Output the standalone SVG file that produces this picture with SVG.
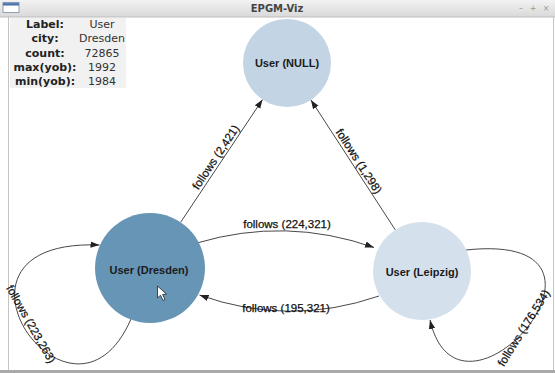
<svg xmlns="http://www.w3.org/2000/svg" width="555" height="373" viewBox="0 0 555 373">
  <defs>
    <linearGradient id="titleGrad" x1="0" y1="0" x2="0" y2="1">
      <stop offset="0" stop-color="#f2f2f2"/>
      <stop offset="1" stop-color="#d9d9d9"/>
    </linearGradient>
    <linearGradient id="iconGrad" x1="0" y1="0" x2="0" y2="1">
      <stop offset="0" stop-color="#6d8fbf"/>
      <stop offset="1" stop-color="#3e64a0"/>
    </linearGradient>
    <marker id="arrow" markerUnits="userSpaceOnUse" markerWidth="10" markerHeight="8" refX="9" refY="4" orient="auto">
      <path d="M0,0.8 L9,4 L0,7.2 Z" fill="#222"/>
    </marker>
    <style>
      .frame { fill: none; stroke: #c4c4c4; stroke-width: 1; }
      .title { font-family: "DejaVu Sans", sans-serif; font-weight: bold; font-size: 10px; fill: #444; }
      .winbtn { font-family: "DejaVu Sans", sans-serif; font-size: 8px; fill: #9a9a9a; }
      .info-k { font-family: "DejaVu Sans", sans-serif; font-weight: bold; font-size: 11px; fill: #222; text-anchor: middle; }
      .info-v { font-family: "DejaVu Sans", sans-serif; font-size: 11px; fill: #333; text-anchor: middle; }
      .node-label { font-family: "Liberation Sans", Arial, sans-serif; font-weight: bold; font-size: 11px; fill: #1b1b1b; text-anchor: middle; }
      .edge { fill: none; stroke: #333; stroke-width: 0.9; marker-end: url(#arrow); }
      .edge-label { font-family: "Liberation Sans", Arial, sans-serif; font-size: 11.5px; fill: #111; stroke: #111; stroke-width: 0.25; text-anchor: middle; }
    </style>
  </defs>

  <!-- window background and frame -->
  <rect x="0" y="0" width="555" height="373" fill="#ffffff"/>
  <rect x="0" y="370" width="555" height="3" fill="#a9a9a9"/>
  <line class="frame" x1="8.5" y1="17" x2="8.5" y2="370"/>
  <line class="frame" x1="553.5" y1="17" x2="553.5" y2="370"/>

  <!-- title bar -->
  <g id="titlebar">
    <rect x="0" y="0" width="555" height="17" fill="url(#titleGrad)"/>
    <line x1="0" y1="17" x2="555" y2="17" stroke="#bdbdbd" stroke-width="1"/>
    <rect x="3" y="2.5" width="16" height="10" fill="#ffffff" stroke="#7a8aa6" stroke-width="0.8"/>
    <rect x="3" y="2.5" width="16" height="3" fill="url(#iconGrad)"/>
    <text class="title" x="277" y="12" text-anchor="middle">EPGM-Viz</text>
    <text class="winbtn" x="521" y="11" text-anchor="middle">–</text>
    <text class="winbtn" x="533" y="11" text-anchor="middle">+</text>
    <text class="winbtn" x="546" y="11" text-anchor="middle">×</text>
  </g>

  <!-- property panel of the selected vertex -->
  <g id="info-panel">
    <rect x="10" y="18" width="116" height="70" fill="#f1f1f1"/>
    <text class="info-k" x="45" y="28">Label:</text>
    <text class="info-v" x="102" y="28">User</text>
    <text class="info-k" x="45" y="42">city:</text>
    <text class="info-v" x="102" y="42">Dresden</text>
    <text class="info-k" x="45" y="56.5">count:</text>
    <text class="info-v" x="102" y="56.5">72865</text>
    <text class="info-k" x="45" y="71">max(yob):</text>
    <text class="info-v" x="102" y="71">1992</text>
    <text class="info-k" x="45" y="85">min(yob):</text>
    <text class="info-v" x="102" y="85">1984</text>
  </g>

  <!-- edges -->
  <g id="edges">
    <path class="edge" d="M180.6,222.3 L262.5,99.6"/>
    <path class="edge" d="M395.3,229.9 L310.9,99.9"/>
    <path class="edge" d="M197,243 Q286,216.5 374,247.5"/>
    <path class="edge" d="M379,296 Q289,327 199.5,295"/>
    <path class="edge" d="M131,319 C72,455 -80,238 99.5,245"/>
    <path class="edge" d="M466,250 C650,230 460,450 430,320"/>

    <text class="edge-label" transform="translate(221.5,161) rotate(-56.2)" x="0" y="-3">follows (2,421)</text>
    <text class="edge-label" transform="translate(353,165) rotate(57)" x="0" y="-3">follows (1,298)</text>
    <text class="edge-label" x="287" y="228">follows (224,321)</text>
    <text class="edge-label" x="286" y="312">follows (195,321)</text>
    <text class="edge-label" transform="translate(27.5,326) rotate(60.3)" x="0" y="0">follows (223,263)</text>
    <text class="edge-label" transform="translate(527,330) rotate(-58)" x="0" y="0">follows (176,534)</text>
  </g>

  <!-- vertices -->
  <g id="node-null">
    <circle cx="287" cy="63" r="44" fill="#c3d4e4"/>
    <text class="node-label" x="287" y="67">User (NULL)</text>
  </g>
  <g id="node-dresden">
    <circle cx="150" cy="268" r="55" fill="#6795b6"/>
    <text class="node-label" x="149" y="274">User (Dresden)</text>
  </g>
  <g id="node-leipzig">
    <circle cx="422" cy="271" r="49" fill="#d4e1ec"/>
    <text class="node-label" x="422" y="276">User (Leipzig)</text>
  </g>

  <!-- mouse pointer -->
  <path d="M157.5,286 L157.5,298 L160.5,295.2 L163,300.5 L165,299.6 L162.6,294.4 L166.5,294.2 Z" fill="#ffffff" stroke="#222" stroke-width="0.8" stroke-linejoin="round"/>
</svg>
